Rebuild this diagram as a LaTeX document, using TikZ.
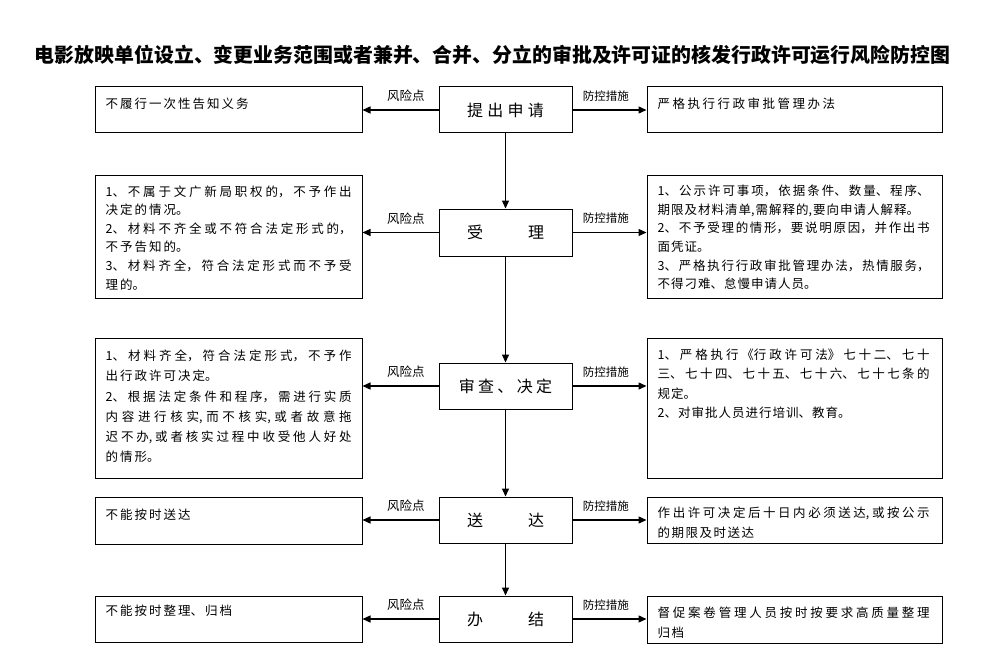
\documentclass[tikz,border=0pt]{standalone}
\usepackage{fontspec}
\usetikzlibrary{arrows.meta}
\newfontfamily\cjk{Noto Sans CJK SC}
\XeTeXlinebreaklocale "zh"
\XeTeXlinebreakskip=0pt plus 3pt
\setlength{\parindent}{0pt}
\tolerance=10000
\newcommand\mycboxfont{\cjk\fontsize{16}{16}\selectfont}
\newcommand\myltxtfont[1]{\cjk\fontsize{12.5}{#1}\selectfont\XeTeXlinebreakskip=2pt plus 3pt\relax}
\newcommand\myrtxtfont[2]{\cjk\fontsize{12.5}{#1}\selectfont\XeTeXlinebreakskip=#2pt plus 3pt\relax}
\begin{document}
\begin{tikzpicture}[x=1pt,y=-1pt,
  cbox/.style={draw, line width=1pt, inner sep=0pt, minimum width=133pt, minimum height=46pt, font=\mycboxfont},
  lbox/.style={draw, line width=1pt, inner sep=0pt, minimum width=267pt},
  rbox/.style={draw, line width=1pt, inner sep=0pt, minimum width=295pt},
  ltxt/.style={anchor=north west, inner sep=0pt, text width=246pt, align=justify, font=\myltxtfont{18.6}},
  rtxt/.style={anchor=north west, inner sep=0pt, text width=272pt, align=justify, font=\myrtxtfont{18.6}{1}},
  arr/.style={line width=1.3pt, -{Triangle[length=8pt,width=7pt]}},
  risk/.style={inner sep=0pt, pos=0.43, yshift=14pt, font=\cjk\fontsize{12.5}{13}\selectfont},
  ctrl/.style={inner sep=0pt, pos=0.45, yshift=14pt, font=\cjk\fontsize{11.5}{12}\selectfont}
]
\useasboundingbox (0,0) rectangle (981,663);

\node[font=\cjk\bfseries\fontsize{19.9}{20}\selectfont] (title) at (492.5,55) {电影放映单位设立、变更业务范围或者兼并、合并、分立的审批及许可证的核发行政许可运行风险防控图};

% centre column
\node[cbox] (C1) at (505.5,110) {提\hspace{4.3pt}出\hspace{4.3pt}申\hspace{4.3pt}请};
\node[cbox, minimum height=47pt] (C2) at (505.5,232.5) {受\hspace{45pt}理};
\node[cbox] (C3) at (505.5,386) {审\hspace{3.3pt}查\hspace{3.3pt}、\hspace{3.3pt}决\hspace{3.3pt}定};
\node[cbox] (C4) at (505.5,520) {送\hspace{45pt}达};
\node[cbox] (C5) at (505.5,619) {办\hspace{45pt}结};

% left column
\node[lbox, minimum height=46pt] (L1) at (228.5,110) {};
\node[lbox, minimum height=123pt] (L2) at (228.5,236.5) {};
\node[lbox, minimum height=140pt] (L3) at (228.5,408) {};
\node[lbox, minimum height=47pt] (L4) at (228.5,520.5) {};
\node[lbox, minimum height=46pt] (L5) at (228.5,619) {};

% right column
\node[rbox, minimum height=46pt] (R1) at (794.5,110) {};
\node[rbox, minimum height=123pt] (R2) at (794.5,236.5) {};
\node[rbox, minimum height=140pt] (R3) at (794.5,408) {};
\node[rbox, minimum height=46pt] (R4) at (794.5,520) {};
\node[rbox, minimum height=47pt] (R5) at (794.5,619.5) {};

% texts, left
\node[ltxt] (tL1) at ([shift={(11pt,-11pt)}]L1.north west) {不履行一次性告知义务};
\node[ltxt] (tL2) at ([shift={(11pt,-10.75pt)}]L2.north west) {1、不属于文广新局职权的，不予作出\linebreak 决定的情况。\par 2、材料不齐全或不符合法定形式的，\linebreak 不予告知的。\par 3、材料齐全，符合法定形式而不予受\linebreak 理的。};
\node[ltxt, font=\myltxtfont{20.2}] (tL3) at ([shift={(11pt,-12.4pt)}]L3.north west) {1、材料齐全，符合法定形式，不予作\linebreak 出行政许可决定。\par 2、根据法定条件和程序，需进行实质\linebreak 内容进行核实,而不核实,或者故意拖\linebreak 迟不办,或者核实过程中收受他人好处\linebreak 的情形。};
\node[ltxt] (tL4) at ([shift={(11pt,-11.75pt)}]L4.north west) {不能按时送达};
\node[ltxt] (tL5) at ([shift={(11pt,-9.5pt)}]L5.north west) {不能按时整理、归档};

% texts, right
\node[rtxt, font=\myrtxtfont{18.6}{2.5}] (tR1) at ([shift={(11pt,-11pt)}]R1.north west) {严格执行行政审批管理办法};
\node[rtxt] (tR2) at ([shift={(11pt,-10.4pt)}]R2.north west) {1、公示许可事项，依据条件、数量、程序、\linebreak 期限及材料清单,需解释的,要向申请人解释。\par 2、不予受理的情形，要说明原因，并作出书\linebreak 面凭证。\par 3、严格执行行政审批管理办法，热情服务，\linebreak 不得刁难、怠慢申请人员。};
\node[rtxt, font=\myrtxtfont{19.3}{1}] (tR3) at ([shift={(11pt,-11.4pt)}]R3.north west) {1、严格执行《行政许可法》七十二、七十\linebreak 三、七十四、七十五、七十六、七十七条的\linebreak 规定。\par 2、对审批人员进行培训、教育。};
\node[rtxt, font=\myrtxtfont{20}{1.5}] (tR4) at ([shift={(11pt,-9.75pt)}]R4.north west) {作出许可决定后十日内必须送达,或按公示\linebreak 的期限及时送达};
\node[rtxt, font=\myrtxtfont{20}{1.5}] (tR5) at ([shift={(11pt,-10.75pt)}]R5.north west) {督促案卷管理人员按时按要求高质量整理\linebreak 归档};

% vertical flow
\draw[arr] (C1.south) -- (C2.north);
\draw[arr] (C2.south) -- (C3.north);
\draw[arr] (C3.south) -- (C4.north);
\draw[arr] (C4.south) -- (C5.north);

% side arrows
\foreach \i in {1,...,5}{
  \draw[arr] (C\i.west) -- node[risk]{风险点} (C\i.west -| L\i.east);
  \draw[arr] (C\i.east) -- node[ctrl]{防控措施} (C\i.east -| R\i.west);
}
\end{tikzpicture}
\end{document}
